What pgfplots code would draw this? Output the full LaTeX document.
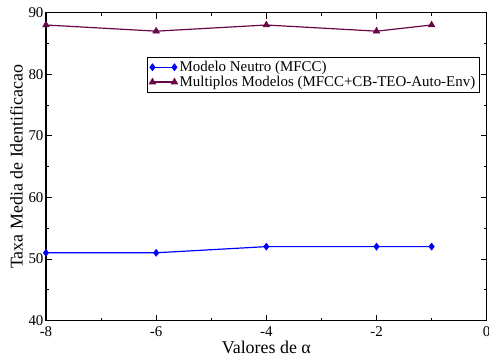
\documentclass[border=0pt]{standalone}
\usepackage{pgfplots}
\pgfplotsset{compat=1.18}
\usepackage{fontspec}
\setmainfont{Liberation Serif}
\definecolor{grmaroon}{RGB}{103,7,72}
\begin{document}
\begin{tikzpicture}
\begin{axis}[
  scale only axis,
  width=441bp, height=308bp,
  xmin=-8, xmax=0, ymin=40, ymax=90,
  xtick={-8,-6,-4,-2,0},
  minor xtick={-7,-5,-3,-1},
  ytick={40,50,60,70,80,90},
  minor ytick={45,55,65,75,85},
  tick align=inside,
  major tick length=6bp, minor tick length=3bp,
  tick style={black, line width=0.8pt},
  axis line style={line width=1.1pt},
  /pgf/number format/assume math mode=true,
  ticklabel style={font=\fontsize{15}{15}\selectfont},
  xticklabel style={yshift=-3bp},
  yticklabel style={xshift=1bp},
  xlabel={Valores de α},
  ylabel={Taxa Media de Identificacao},
  label style={font=\fontsize{18}{18}\selectfont},
  xlabel style={yshift=2.5bp},
  ylabel style={yshift=-1bp},
  legend style={at={(0.229,0.856)}, anchor=north west, font=\fontsize{15}{15}\selectfont,
    draw=black, line width=0.6pt, inner sep=2pt, row sep=-1pt, legend cell align=left},
  legend image code/.code={\draw plot coordinates {(0bp,0bp) (22bp,0bp)};},
]
\addplot[blue, line width=1.2pt, mark=diamond*, mark size=3.5pt, mark options={fill=blue, line width=0.6pt}]
  coordinates {(-8,51) (-6,51) (-4,52) (-2,52) (-1,52)};
\addlegendentry{Modelo Neutro (MFCC)}
\addplot[grmaroon, line width=1.2pt, mark=triangle*, mark size=3.8pt, mark options={fill=grmaroon, line width=0.6pt}]
  coordinates {(-8,88) (-6,87) (-4,88) (-2,87) (-1,88)};
\addlegendentry{Multiplos Modelos (MFCC+CB-TEO-Auto-Env)}
\end{axis}
\pgfresetboundingbox
\useasboundingbox ([xshift=-46bp,yshift=-37.3bp]current axis.south west) rectangle ([xshift=2.3bp,yshift=12.7bp]current axis.north east);
\end{tikzpicture}
\end{document}
